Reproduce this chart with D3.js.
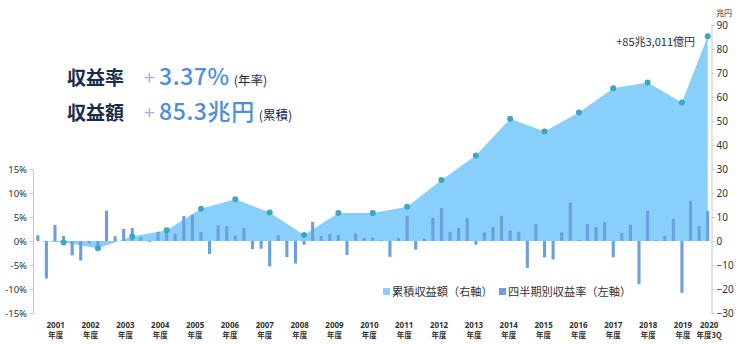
<!DOCTYPE html>
<html><head><meta charset="utf-8">
<script src="https://cdn.jsdelivr.net/npm/d3@7"></script>
<style>
html,body{margin:0;padding:0;background:#fff;}
svg{display:block;font-family:"Noto Sans CJK JP","Noto Sans",sans-serif;}
</style></head>
<body>
<svg id="chart" width="750" height="345"></svg>
<script>
// ---- data ----
const years = [2001,2002,2003,2004,2005,2006,2007,2008,2009,2010,2011,2012,2013,2014,2015,2016,2017,2018,2019,2020];
const quarterNames = ["1Q","2Q","3Q","4Q"];
const quarterlyReturns = [
  1.2, -7.8, 3.35, 1.05,
  -3.0, -4.05, -0.45, -1.65,
  6.3, 1.0, 2.5, 2.7,
  0.84, -0.2, 1.9, 2.4,
  1.47, 5.2, 5.5, 1.9,
  -2.7, 3.3, 3.1, 1.1,
  2.7, -1.7, -1.6, -5.3,
  1.2, -3.35, -4.7, -0.77,
  4.0, 1.05, 1.47, 1.26,
  -2.9, 1.54, 0.63, 0.7,
  0.2, -3.3, 0.56, 5.2,
  -1.8, 0.5, 4.8, 6.85,
  1.9, 2.7, 4.75, -0.77,
  1.8, 2.9, 5.24, 2.2,
  1.9, -5.6, 3.56, -3.4,
  -3.85, 1.8, 8.0, 0.2,
  3.56, 2.9, 3.9, -3.4,
  1.7, 3.4, -9.0, 6.3,
  0.2, 1.1, 4.6, -10.8,
  8.4, 3.1, 6.3
];
const cumulativeStart = 0;
const cumulativeReturns = [-0.59,-3.05,1.84,4.45,13.42,17.36,11.83,2.48,11.66,11.63,14.24,25.46,35.67,50.96,45.63,53.57,63.65,66.03,57.75,85.30];
const leftTicks = [15,10,5,0,-5,-10,-15];
const rightTicks = [90,80,70,60,50,40,30,20,10,0,-10,-20,-30];
const yearLabels = years.map(y => String(y));
const yearSubLabels = years.map((y,i) => i === years.length-1 ? "年度3Q" : "年度");
const legendLabels = ["累積収益額（右軸）","四半期別収益率（左軸）"];
const annotation = "+85兆3,011億円";

// ---- build ----
const quarters = [];
years.forEach(y => quarterNames.forEach(q => quarters.push(y + q)));
quarters.length = quarterlyReturns.length;
const bars = quarters.map((q,i) => ({q, v: quarterlyReturns[i]}));
const yearEndIdx = years.map((y,i) => Math.min(i*4+3, quarters.length-1));
const cumPoints = [{q: quarters[0], v: cumulativeStart, dot:false}]
  .concat(cumulativeReturns.map((v,i) => ({q: quarters[yearEndIdx[i]], v, dot:true})));

const svg = d3.select("#chart");
const x = d3.scaleBand().domain(quarters).range([33.5, 712]).paddingInner(0.64).paddingOuter(0.32);
const xc = q => x(q) + x.bandwidth()/2;
const yL = d3.scaleLinear().domain([-15,15]).range([313,169]);
const yR = d3.scaleLinear().domain([-30,90]).range([313,25]);
const xYear = d3.scaleLinear().domain([2001,2019]).range([55.7,683]);

const areaColor = "#89cffb", barColor = "#6b9fe0", dotColor = "#3aa8c2";
const navy = "#1c2c4e", axisCol = "#c8c8c8", txt = "#333";

// area
svg.append("path").datum(cumPoints)
  .attr("fill", areaColor)
  .attr("d", d3.area().x(d => xc(d.q)).y0(yR(0)).y1(d => yR(d.v)));

// bars
svg.append("g").selectAll("rect").data(bars).join("rect")
  .attr("x", d => x(d.q)).attr("width", x.bandwidth())
  .attr("y", d => yL(Math.max(0,d.v)))
  .attr("height", d => Math.abs(yL(d.v) - yL(0)))
  .attr("fill", barColor);

// dots
svg.append("g").selectAll("circle").data(cumPoints.filter(d => d.dot)).join("circle")
  .attr("cx", d => xc(d.q)).attr("cy", d => yR(d.v)).attr("r", 3)
  .attr("fill", dotColor);

// left axis
const gl = svg.append("g").attr("transform","translate(33,0)")
  .call(d3.axisLeft(yL).tickValues(leftTicks).tickFormat(d => d + "%").tickSize(3).tickPadding(3));
gl.select(".domain").attr("stroke", axisCol);
gl.selectAll(".tick line").attr("stroke", axisCol);
gl.selectAll("text").attr("fill", txt).style("font-size","9.5px").style("font-family","'Noto Sans','Liberation Sans',sans-serif");

// right axis
const gr = svg.append("g").attr("transform","translate(711.5,0)")
  .call(d3.axisRight(yR).tickValues(rightTicks).tickSize(3).tickPadding(2));
gr.select(".domain").attr("stroke", axisCol);
gr.selectAll(".tick line").attr("stroke", axisCol);
gr.selectAll("text").attr("fill", txt).style("font-size","10px").style("font-family","'Noto Sans','Liberation Sans',sans-serif");
svg.append("text").attr("x", 716).attr("y", 16).attr("fill", txt)
  .style("font-size","8px").text("兆円");

// year labels
const gy = svg.append("g");
years.forEach((yr,i) => {
  const cx = i < years.length-1 ? xYear(yr) : xc(quarters[quarters.length-1]) + 1.5;
  gy.append("text").attr("x", cx).attr("y", 328).attr("text-anchor","middle")
    .attr("fill", txt).style("font-size","8px").style("font-weight","bold")
    .style("font-family","'Noto Sans',sans-serif").text(yearLabels[i]);
  gy.append("text").attr("x", cx).attr("y", 338).attr("text-anchor","middle")
    .attr("fill", txt).style("font-size","7.5px").style("font-weight","bold").text(yearSubLabels[i]);
});

// legend
const lg = svg.append("g");
[[383, areaColor, legendLabels[0]],[499, barColor, legendLabels[1]]].forEach(([lx,c,t]) => {
  lg.append("rect").attr("x", lx).attr("y", 288).attr("width", 7).attr("height", 7).attr("fill", c);
  lg.append("text").attr("x", lx+9).attr("y", 296).attr("fill", txt).style("font-size","11.2px").text(t);
});

// annotation
svg.append("text").attr("x", 695).attr("y", 46).attr("text-anchor","end")
  .attr("fill", navy).style("font-size","11px").text(annotation);

// headline
function headline(y, label, num, note) {
  const t = svg.append("text").attr("y", y);
  t.append("tspan").attr("x", 67).attr("fill", navy).style("font-size","19px").style("font-weight","bold").text(label);
  t.append("tspan").attr("x", 144).attr("fill", "#8fb6e6").style("font-size","19px").text("+");
  t.append("tspan").attr("x", 159).attr("fill", "#4f8ed8").style("font-size","23px").style("font-weight","500").style("letter-spacing","0.6px").text(num);
  t.append("tspan").attr("dx", 4).attr("fill", navy).style("font-size","12.5px").text(note);
}
headline(85, "収益率", "3.37%", "(年率)");
headline(120, "収益額", "85.3兆円", "(累積)");
</script>
</body></html>
